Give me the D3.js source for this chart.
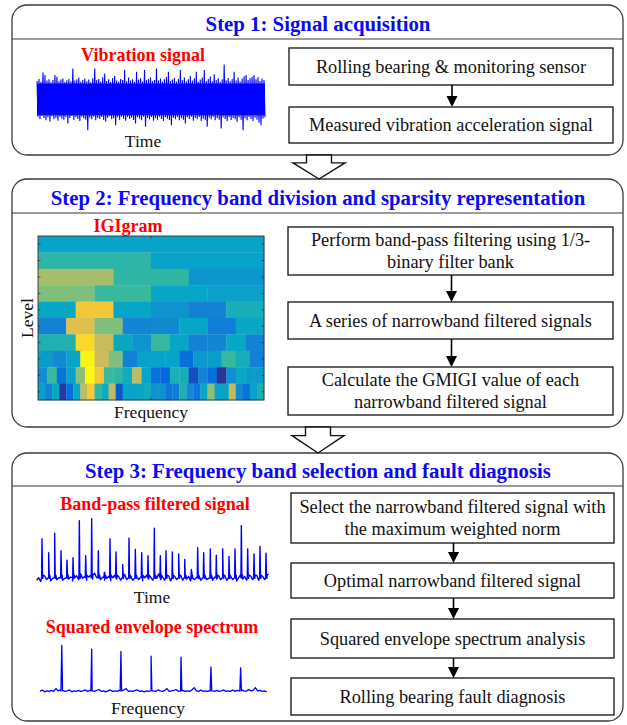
<!DOCTYPE html>
<html>
<head>
<meta charset="utf-8">
<script src="https://cdn.jsdelivr.net/npm/d3@7"></script>
<style>
  body { margin: 0; background: #fff; }
  svg { display: block; }
  text { font-family: "Liberation Serif", "Times New Roman", serif; }
</style>
</head>
<body>
<svg id="fig" width="627" height="725"></svg>
<script>
// ---------- text content ----------
const stepTitles = [
  "Step 1: Signal acquisition",
  "Step 2: Frequency band division and sparsity representation",
  "Step 3: Frequency band selection and fault diagnosis"
];
const step1Boxes = [["Rolling bearing & monitoring sensor"], ["Measured vibration acceleration signal"]];
const step2Boxes = [
  ["Perform band-pass filtering using 1/3-", "binary filter bank"],
  ["A series of narrowband filtered signals"],
  ["Calculate the GMIGI value of each", "narrowband filtered signal"]
];
const step3Boxes = [
  ["Select the narrowband filtered signal with", "the maximum weighted norm"],
  ["Optimal narrowband filtered signal"],
  ["Squared envelope spectrum analysis"],
  ["Rolling bearing fault diagnosis"]
];
const plotTitles = ["Vibration signal", "IGIgram", "Band-pass filtered signal", "Squared envelope spectrum"];
const axisLabels = ["Time", "Frequency", "Level", "Time", "Frequency"];

// ---------- raw vibration signal: upper / lower excursions per sample pair ----------
const vibHigh = [1.10,1.22,1.05,1.60,1.45,1.12,1.20,1.02,1.15,1.45,1.35,1.08,1.18,1.25,1.04,1.14,1.22,1.06,1.85,1.12,
  1.20,1.30,1.05,1.16,1.24,1.08,1.18,1.02,1.26,1.85,1.15,1.22,1.06,1.32,1.55,1.10,1.20,1.04,1.28,1.40,
  1.12,1.05,1.22,1.16,1.75,1.08,1.30,1.12,1.20,1.04,1.65,1.18,1.26,1.06,1.75,1.14,1.22,1.30,1.08,1.16,
  1.85,1.12,1.25,1.05,1.20,1.34,1.65,1.10,1.18,1.28,1.06,1.22,1.75,1.14,1.30,1.08,1.20,1.40,1.12,1.26,
  1.65,1.05,1.18,1.30,1.75,1.10,1.22,1.36,1.08,1.50,1.16,1.26,1.04,1.20,2.08,1.14,1.28,1.08,1.22,1.65,
  1.12,1.30,1.06,1.24,1.38,1.45,1.16,1.28,1.35,1.45,1.20,1.32,1.10,1.25,1.15];
const vibLow = [-1.05,-1.18,-1.00,-1.12,-1.25,-1.08,-1.35,-1.02,-1.20,-1.10,-1.28,-1.04,-1.16,-1.22,-1.06,-1.45,-1.12,-1.00,-1.24,-1.08,
  -1.18,-1.30,-1.05,-1.14,-1.22,-1.86,-1.10,-1.20,-1.04,-1.26,-1.12,-1.18,-1.06,-1.24,-1.35,-1.10,-1.02,-1.20,-1.14,-1.55,
  -1.08,-1.22,-1.04,-1.16,-1.28,-1.06,-1.18,-1.10,-1.24,-1.45,-1.08,-1.16,-1.26,-1.04,-1.65,-1.12,-1.20,-1.06,-1.28,-1.14,
  -1.22,-1.04,-1.18,-1.30,-1.08,-1.16,-1.24,-1.55,-1.10,-1.20,-1.06,-1.26,-1.14,-1.22,-1.45,-1.08,-1.18,-1.04,-1.28,-1.12,
  -1.20,-1.06,-1.30,-1.16,-1.24,-1.65,-1.10,-1.20,-1.04,-1.26,-1.14,-1.22,-1.75,-1.08,-1.18,-1.30,-1.06,-1.24,-1.12,-1.20,
  -1.34,-1.08,-1.22,-1.86,-1.14,-1.26,-1.06,-1.18,-1.30,-1.10,-1.22,-1.40,-1.55,-1.16,-1.08];

// ---------- IGIgram: one row per level, one value per sub-band (normalised 0..1) ----------
const igiLevels = ["0", "1", "1.6", "2", "2.6", "3", "3.6", "4", "4.6", "5"];
const igiValues = [
  [0.36],
  [0.47, 0.36],
  [0.66, 0.48, 0.31],
  [0.60, 0.50, 0.37, 0.35],
  [0.38, 0.84, 0.37, 0.30, 0.24, 0.42],
  [0.24, 0.78, 0.60, 0.25, 0.27, 0.37, 0.22, 0.38],
  [0.44, 0.44, 0.90, 0.72, 0.38, 0.30, 0.50, 0.37, 0.24, 0.25, 0.38, 0.24],
  [0.34, 0.27, 0.37, 0.98, 0.73, 0.60, 0.23, 0.35, 0.36, 0.36, 0.17, 0.33, 0.34, 0.50, 0.42, 0.23],
  [0.28, 0.50, 0.18, 0.35, 0.62, 1.00, 0.84, 0.50, 0.48, 0.40, 0.70, 0.36, 0.18, 0.14, 0.43, 0.42,
   0.08, 0.24, 0.17, 0.02, 0.28, 0.38, 0.34, 0.33],
  [0.35, 0.24, 0.38, 0.03, 0.16, 0.38, 0.70, 0.85, 0.48, 0.40, 0.70, 0.10, 0.37, 0.35, 0.38, 0.40,
   0.30, 0.30, 0.20, 0.22, 0.44, 0.27, 0.20, 0.38, 0.62, 0.35, 0.35, 0.70, 0.27, 0.18, 0.35, 0.43]
];
const parulaStops = ["#352a87", "#0363e1", "#1485d4", "#06a7c6", "#38b99e", "#92bf73", "#d9ba56", "#fcce2e", "#f9fb0e"];

// ---------- band-pass filtered signal: impulse times and heights, plus noise floor ----------
const bpTimes = [18, 38, 56, 75, 93, 111, 130, 149, 167, 187, 205, 222, 240, 260, 279, 298, 317, 336, 355,
  373, 390, 409, 428, 446, 466, 485, 503, 523, 541, 560, 579, 597, 616, 635, 654, 672, 690];
const bpAmps = [0.68, 0.46, 0.77, 0.49, 0.34, 0.38, 0.97, 0.41, 1.00, 0.49, 0.15, 0.68, 0.47, 0.27, 0.69, 0.51,
  0.46, 0.41, 0.85, 0.41, 0.49, 0.47, 0.44, 0.35, 0.19, 0.54, 0.46, 0.52, 0.42, 0.52, 0.40, 0.52, 0.89,
  0.52, 0.44, 0.56, 0.45];
const bpFloor = [0.02,0.06,0.00,0.05,0.09,0.03,0.07,0.01,0.05,0.10,
  0.03,0.06,0.08,0.02,0.05,0.11,0.04,0.07,0.01,0.06,
  0.09,0.03,0.12,0.05,0.08,0.02,0.07,0.10,0.04,0.13,
  0.06,0.09,0.03,0.07,0.02,0.05,0.08,0.01,0.06,0.10,
  0.04,0.08,0.02,0.07,0.11,0.03,0.06,0.09,0.02,0.05,
  0.08,0.03,0.07,0.01,0.06,0.10,0.04,0.07,0.02,0.09,
  0.05,0.12,0.03,0.07,0.02,0.06,0.09,0.01,0.05,0.08,
  0.03,0.07,0.10,0.02,0.06,0.04,0.08,0.01,0.05,0.03,
  0.07,0.10,0.02,0.06,0.09,0.03,0.05,0.08,0.02,0.07,
  0.04,0.09,0.03,0.06,0.10,0.02,0.05,0.08,0.03,0.07,
  0.01,0.06,0.11,0.04,0.08,0.02,0.06,0.09,0.03,0.07,
  0.10,0.02,0.05,0.08,0.03,0.06,0.12];
const bpFloorStep = 6;

// ---------- squared envelope spectrum: harmonic lines and background ----------
const sesFreqs = [9.6, 22.8, 35.7, 49.0, 62.2, 75.4, 88.5];
const sesAmps = [1.00, 0.92, 0.87, 0.77, 0.75, 0.54, 0.52];
const sesFloor = [0.02,0.05,0.01,0.03,0.02,0.04,0.02,0.08,0.03,0.05,
  0.04,0.02,0.03,0.05,0.01,0.03,0.02,0.04,0.02,0.03,
  0.05,0.02,0.04,0.03,0.02,0.04,0.06,0.02,0.03,0.01,
  0.03,0.05,0.02,0.03,0.02,0.04,0.03,0.05,0.08,0.02,
  0.03,0.02,0.04,0.05,0.02,0.03,0.01,0.03,0.02,0.04,
  0.03,0.02,0.05,0.03,0.02,0.04,0.08,0.02,0.03,0.04,
  0.06,0.02,0.03,0.04,0.02,0.03,0.02,0.05,0.10,0.03,
  0.02,0.05,0.02,0.03,0.02,0.04,0.03,0.02,0.04,0.02,
  0.03,0.05,0.02,0.03,0.02,0.05,0.02,0.04,0.03,0.05,
  0.03,0.02,0.06,0.03,0.04,0.10,0.03,0.04,0.02,0.03,0.01];

// ---------- drawing ----------
const svg = d3.select("#fig");
const BLUE = "#0000ff", RED = "#ff0000", TITLE_BLUE = "#0a0af0";
const FRAME = "#3a3a3a";

const panelX0 = 12, panelX1 = 623;
const panels = [
  { y0: 5,   y1: 155, div: 39 },
  { y0: 179, y1: 427, div: 213 },
  { y0: 453, y1: 721, div: 486 }
];

panels.forEach((p, i) => {
  svg.append("rect")
    .attr("x", panelX0).attr("y", p.y0)
    .attr("width", panelX1 - panelX0).attr("height", p.y1 - p.y0)
    .attr("rx", 15).attr("ry", 15)
    .attr("fill", "#fff").attr("stroke", FRAME).attr("stroke-width", 1.3);
  svg.append("line")
    .attr("x1", panelX0).attr("x2", panelX1)
    .attr("y1", p.div).attr("y2", p.div)
    .attr("stroke", FRAME).attr("stroke-width", 1.2);
  svg.append("text")
    .attr("x", 318).attr("y", (p.y0 + p.div) / 2 + 1)
    .attr("text-anchor", "middle").attr("dominant-baseline", "central")
    .attr("font-size", 20.8).attr("font-weight", "bold")
    .attr("fill", TITLE_BLUE)
    .text(stepTitles[i]);
});

// hollow block arrows linking the three steps
function blockArrow(yTop, yTip, cx) {
  const headY = yTop + (yTip - yTop) * 0.33;
  const pts = [[cx - 12.5, yTop], [cx + 12.5, yTop], [cx + 12.5, headY], [cx + 26, headY],
               [cx, yTip], [cx - 26, headY], [cx - 12.5, headY]];
  svg.append("path")
    .attr("d", "M" + pts.map(p => p.join(",")).join("L") + "Z")
    .attr("fill", "#fff").attr("stroke", "#111").attr("stroke-width", 1.4)
    .attr("stroke-linejoin", "miter");
}
blockArrow(panels[0].y1, panels[1].y0, 319);
blockArrow(panels[1].y1, panels[2].y0, 318);

// process boxes with small connector arrows
function boxColumn(texts, layout, x0, x1) {
  const cx = (x0 + x1) / 2 + 1;
  texts.forEach((lines, i) => {
    const [t, b] = layout[i];
    svg.append("rect").attr("x", x0).attr("y", t).attr("width", x1 - x0).attr("height", b - t)
      .attr("fill", "#fff").attr("stroke", "#111").attr("stroke-width", 1.3);
    const mid = (t + b) / 2, lh = 22;
    lines.forEach((ln, j) => {
      svg.append("text")
        .attr("x", (x0 + x1) / 2).attr("y", mid + (j - (lines.length - 1) / 2) * lh)
        .attr("text-anchor", "middle").attr("dominant-baseline", "central")
        .attr("font-size", 18.3).attr("fill", "#111").text(ln);
    });
    if (i < texts.length - 1) {
      const nt = layout[i + 1][0];
      svg.append("line").attr("x1", cx).attr("x2", cx).attr("y1", b).attr("y2", nt - 9)
        .attr("stroke", "#000").attr("stroke-width", 1.6);
      svg.append("path")
        .attr("d", `M${cx - 5.5},${nt - 11}L${cx + 5.5},${nt - 11}L${cx},${nt}Z`)
        .attr("fill", "#000");
    }
  });
}
boxColumn(step1Boxes, [[48, 85], [107, 143]], 289, 613);
boxColumn(step2Boxes, [[227, 275], [302, 339], [367, 415]], 288, 613);
boxColumn(step3Boxes, [[493, 543], [563, 598], [619, 658], [678, 715]], 291, 614);

function label(x, y, txt, opts = {}) {
  const t = svg.append("text").attr("x", x).attr("y", y)
    .attr("text-anchor", "middle").attr("dominant-baseline", "central")
    .attr("font-size", opts.size || 18)
    .attr("font-weight", opts.bold ? "bold" : "normal")
    .attr("fill", opts.color || "#111").text(txt);
  if (opts.rotate) t.attr("transform", `rotate(-90,${x},${y})`);
  return t;
}

// ---- Step 1: raw vibration signal ----
label(143, 55, plotTitles[0], { bold: true, color: RED });
{
  const x = d3.scaleLinear().domain([0, vibHigh.length - 0.5]).range([37, 265]);
  const y = d3.scaleLinear().domain([-2.2, 2.2]).range([136, 62.6]);
  const pts = [];
  vibHigh.forEach((h, i) => { pts.push([i, h]); pts.push([i + 0.5, vibLow[i]]); });
  svg.append("path").datum(pts)
    .attr("d", d3.line().x(d => x(d[0])).y(d => y(d[1])))
    .attr("fill", "none").attr("stroke", BLUE).attr("stroke-width", 1.1);
  // dense core of the waveform
  svg.append("path").datum(pts.map(d => [d[0], Math.max(-0.95, Math.min(0.95, d[1]))]))
    .attr("d", d3.area().x(d => x(d[0])).y0(y(-0.95)).y1(y(0.95)))
    .attr("fill", BLUE);
}
label(143, 141, axisLabels[0], { size: 17.5 });

// ---- Step 2: IGIgram ----
label(128, 226, plotTitles[1], { bold: true, color: RED });
{
  const x = d3.scaleLinear().domain([0, 1]).range([38, 264]);
  const y = d3.scaleBand().domain(igiLevels).range([236, 400]);
  const color = d3.scaleSequential(d3.piecewise(d3.interpolateRgb, parulaStops)).domain([0, 1]);
  const g = svg.append("g");
  igiValues.forEach((row, li) => {
    const n = row.length;
    g.selectAll(null).data(row).join("rect")
      .attr("x", (d, k) => x(k / n))
      .attr("width", (d, k) => x((k + 1) / n) - x(k / n) + 0.3)
      .attr("y", y(igiLevels[li]))
      .attr("height", y.bandwidth() + 0.3)
      .attr("fill", d => color(d));
  });
  // frame and ticks
  g.append("rect").attr("x", 38).attr("y", 236).attr("width", 226).attr("height", 164)
    .attr("fill", "none").attr("stroke", "#333").attr("stroke-width", 0.9);
  igiLevels.forEach(l => {
    const cy = y(l) + y.bandwidth() / 2;
    g.append("line").attr("x1", 38).attr("x2", 40.5).attr("y1", cy).attr("y2", cy)
      .attr("stroke", "#333").attr("stroke-width", 0.8);
    g.append("line").attr("x1", 261.5).attr("x2", 264).attr("y1", cy).attr("y2", cy)
      .attr("stroke", "#333").attr("stroke-width", 0.8);
  });
  [236, 400].forEach((yy, k) => {
    g.append("line").attr("x1", x(0.5)).attr("x2", x(0.5))
      .attr("y1", yy).attr("y2", k ? yy - 2.5 : yy + 2.5)
      .attr("stroke", "#333").attr("stroke-width", 0.8);
  });
}
label(151, 412, axisLabels[1], { size: 17.5 });
label(27, 318, axisLabels[2], { size: 17.5, rotate: true });

// ---- Step 3: band-pass filtered signal ----
label(155, 504, plotTitles[2], { bold: true, color: RED });
{
  const x = d3.scaleLinear().domain([0, 708]).range([36, 272]);
  const y = d3.scaleLinear().domain([0, 1]).range([581.5, 518.7]);
  const pts = bpFloor.map((v, i) => [i * bpFloorStep + 2, v]);
  bpTimes.forEach((t, i) => {
    pts.push([t - 1.2, 0.06], [t, bpAmps[i]], [t + 1.4, 0.14], [t + 2.6, 0.05], [t + 3.6, 0.1]);
  });
  pts.sort((a, b) => a[0] - b[0]);
  svg.append("path").datum(pts)
    .attr("d", d3.line().x(d => x(d[0])).y(d => y(d[1])))
    .attr("fill", "none").attr("stroke", BLUE).attr("stroke-width", 1.4)
    .attr("stroke-linejoin", "round");
}
label(152, 597, axisLabels[3], { size: 17.5 });

// ---- Step 3: squared envelope spectrum ----
label(152, 627, plotTitles[3], { bold: true, color: RED });
{
  const x = d3.scaleLinear().domain([0, 100]).range([40, 266.7]);
  const y = d3.scaleLinear().domain([0, 1]).range([692.3, 645.3]);
  const pts = sesFloor.map((v, i) => [i, v]);
  sesFreqs.forEach((f, i) => {
    pts.push([f - 0.35, 0.03], [f, sesAmps[i]], [f + 0.35, 0.03]);
  });
  pts.sort((a, b) => a[0] - b[0]);
  svg.append("path").datum(pts)
    .attr("d", d3.line().x(d => x(d[0])).y(d => y(d[1])))
    .attr("fill", "none").attr("stroke", BLUE).attr("stroke-width", 1.3)
    .attr("stroke-linejoin", "round");
}
label(148, 708, axisLabels[4], { size: 17.5 });
</script>
</body>
</html>
